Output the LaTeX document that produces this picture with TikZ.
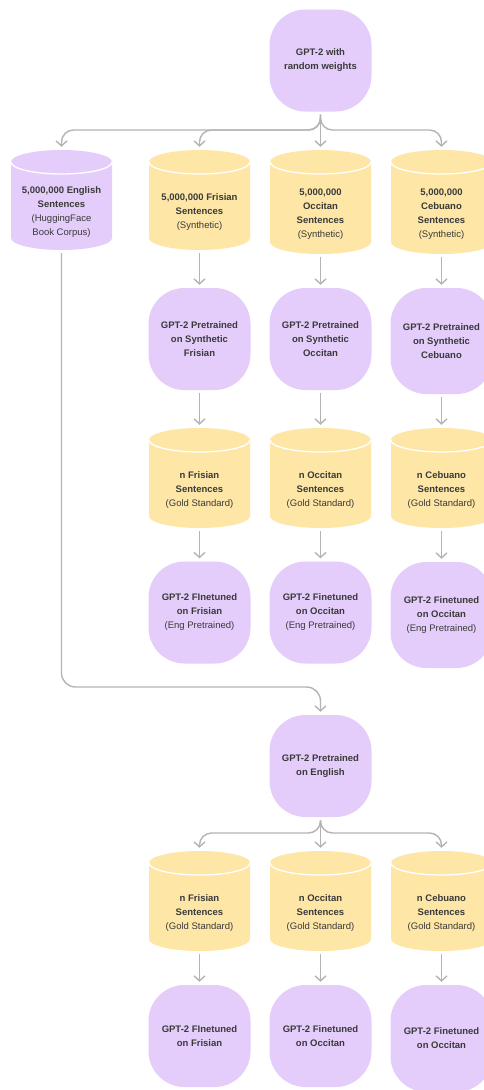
\documentclass[tikz,border=0pt]{standalone}
\usepackage{fontspec}
\setmainfont{Liberation Sans}
\usetikzlibrary{arrows.meta}

\definecolor{gptpurple}{HTML}{E5CDFB}
\definecolor{datayellow}{HTML}{FDE6A6}
\definecolor{linegray}{HTML}{B4B4B4}
\definecolor{txt}{HTML}{3A3A3A}

% cylinder text: lines stacked, pushed down below the lid
\newcommand{\dbtext}[1]{\raisebox{0pt}[\dimexpr\height+24pt\relax]{\begin{tabular}{@{}c@{}}#1\end{tabular}}}

\begin{document}
\begin{tikzpicture}[x=1pt, y=1pt]
		\tikzset{
			box/.style={rounded corners=36pt, fill=gptpurple, minimum width=102pt, minimum height=102pt,
				align=center, inner sep=2pt, text=txt, font=\fontsize{9.5}{14}\selectfont},
			db/.style={minimum width=101pt, minimum height=100pt, inner sep=0pt,
				text=txt, font=\fontsize{9.5}{14}\selectfont,
				path picture={
					\fill[#1] ([yshift=-12pt]path picture bounding box.north west)
						arc[start angle=180, end angle=0, x radius=50.5pt, y radius=12pt]
						-- ([yshift=12pt]path picture bounding box.south east)
						arc[start angle=0, end angle=-180, x radius=50.5pt, y radius=12pt] -- cycle;
					\draw[white, line width=1.3pt] ([yshift=-12pt]path picture bounding box.north west)
						arc[start angle=180, end angle=360, x radius=50.5pt, y radius=12pt];
				}},
			arr/.style={draw=linegray, line width=1.4pt, -{Straight Barb[length=5pt, width=11pt]},
				shorten <=3pt, shorten >=3pt}
		};

		\fill[white] (0,0) rectangle (484,-1090);
		\useasboundingbox (0,0) rectangle (484,-1090);

		% pretraining from scratch
		\node[box] (rnd) at (320.5,-60.5) {\textbf{GPT-2 with}\\\textbf{random weights}};

		\node[db=gptpurple] (eng) at (61.5,-200) {\dbtext{\textbf{5,000,000 English}\\\textbf{Sentences}\\(HuggingFace\\Book Corpus)}};
		\node[db=datayellow] (fris) at (199.5,-200) {\dbtext{\textbf{5,000,000 Frisian}\\\textbf{Sentences}\\(Synthetic)}};
		\node[db=datayellow, minimum height=104pt] (occs) at (320.5,-202) {\dbtext{\textbf{5,000,000}\\\textbf{Occitan}\\\textbf{Sentences}\\(Synthetic)}};
		\node[db=datayellow, minimum height=104pt] (cebs) at (441.5,-202) {\dbtext{\textbf{5,000,000}\\\textbf{Cebuano}\\\textbf{Sentences}\\(Synthetic)}};

		\node[box] (frip) at (199.5,-339) {\textbf{GPT-2 Pretrained}\\\textbf{on Synthetic}\\\textbf{Frisian}};
		\node[box] (occp) at (320.5,-339) {\textbf{GPT-2 Pretrained}\\\textbf{on Synthetic}\\\textbf{Occitan}};
		\node[box, minimum height=106pt] (cebp) at (441.5,-341) {\textbf{GPT-2 Pretrained}\\\textbf{on Synthetic}\\\textbf{Cebuano}};

		\node[db=datayellow] (frig) at (199.5,-478) {\dbtext{\textbf{n Frisian}\\\textbf{Sentences}\\(Gold Standard)}};
		\node[db=datayellow] (occg) at (320.5,-478) {\dbtext{\textbf{n Occitan}\\\textbf{Sentences}\\(Gold Standard)}};
		\node[db=datayellow] (cebg) at (441.5,-478) {\dbtext{\textbf{n Cebuano}\\\textbf{Sentences}\\(Gold Standard)}};

		\node[box] (frif) at (199.5,-612.5) {\textbf{GPT-2 FInetuned}\\\textbf{on Frisian}\\(Eng Pretrained)};
		\node[box] (occf) at (320.5,-612.5) {\textbf{GPT-2 Finetuned}\\\textbf{on Occitan}\\(Eng Pretrained)};
		\node[box, minimum height=106pt] (cebf) at (441.5,-615) {\textbf{GPT-2 Finetuned}\\\textbf{on Occitan}\\(Eng Pretrained)};

		% english pretrained branch
		\node[box] (engpre) at (320.5,-766) {\textbf{GPT-2 Pretrained}\\\textbf{on English}};

		\node[db=datayellow] (frig2) at (199.5,-901) {\dbtext{\textbf{n Frisian}\\\textbf{Sentences}\\(Gold Standard)}};
		\node[db=datayellow] (occg2) at (320.5,-901) {\dbtext{\textbf{n Occitan}\\\textbf{Sentences}\\(Gold Standard)}};
		\node[db=datayellow] (cebg2) at (441.5,-901) {\dbtext{\textbf{n Cebuano}\\\textbf{Sentences}\\(Gold Standard)}};

		\node[box] (frif2) at (199.5,-1036) {\textbf{GPT-2 FInetuned}\\\textbf{on Frisian}};
		\node[box] (occf2) at (320.5,-1036) {\textbf{GPT-2 Finetuned}\\\textbf{on Occitan}};
		\node[box, minimum height=107pt] (cebf2) at (441.5,-1038.5) {\textbf{GPT-2 Finetuned}\\\textbf{on Occitan}};

		\coordinate (split) at (320.5,-130);
		\coordinate (engturn) at (320.5,-687);
		\coordinate (split2) at (320.5,-833);

		\draw[arr, rounded corners=12pt] (rnd.south) -- (split) -| (eng.north);
		\draw[arr, rounded corners=12pt] (rnd.south) -- (split) -| (fris.north);
		\draw[arr] (rnd) to (occs);
		\draw[arr, rounded corners=12pt] (rnd.south) -- (split) -| (cebs.north);

		\draw[arr] (fris) to (frip);
		\draw[arr] (occs) to (occp);
		\draw[arr] (cebs) to (cebp);

		\draw[arr] (frip) to (frig);
		\draw[arr] (occp) to (occg);
		\draw[arr] (cebp) to (cebg);

		\draw[arr] (frig) to (frif);
		\draw[arr] (occg) to (occf);
		\draw[arr] (cebg) to (cebf);

		\draw[arr, rounded corners=14pt] (eng.south) |- (engturn) -- (engpre.north);

		\draw[arr, rounded corners=12pt] (engpre.south) -- (split2) -| (frig2.north);
		\draw[arr] (engpre) to (occg2);
		\draw[arr, rounded corners=12pt] (engpre.south) -- (split2) -| (cebg2.north);

		\draw[arr] (frig2) to (frif2);
		\draw[arr] (occg2) to (occf2);
		\draw[arr] (cebg2) to (cebf2);

	\end{tikzpicture}
\end{document}
